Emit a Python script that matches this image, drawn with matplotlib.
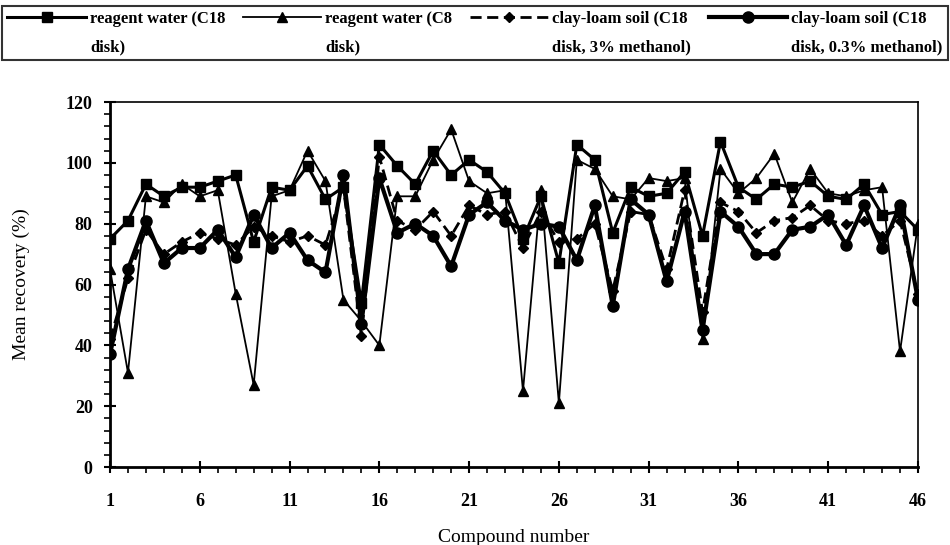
import matplotlib
matplotlib.use("Agg")
import matplotlib.pyplot as plt
import matplotlib.transforms as mtransforms
from matplotlib.legend_handler import HandlerLine2D
from matplotlib.ticker import MultipleLocator, FixedLocator

plt.rcParams['font.family'] = ['Liberation Serif', 'DejaVu Serif']

compounds = list(range(1, 47))

c18_water = [75, 81, 93, 89, 92, 92, 94, 96, 74, 92, 91, 99, 88, 92, 54, 106, 99, 93, 104, 96,
             101, 97, 90, 75, 89, 67, 106, 101, 77, 92, 89, 90, 97, 76, 107, 92, 88, 93, 92, 94,
             89, 88, 93, 83, 84, 78]
c8_water = [65, 31, 89, 87, 93, 89, 91, 57, 27, 89, 91, 104, 94, 55, 48, 40, 89, 89, 101, 111,
            94, 90, 91, 25, 91, 21, 101, 98, 89, 88, 95, 94, 95, 42, 98, 90, 95, 103, 87, 98,
            90, 89, 91, 92, 38, 80]
soil_3pct = [42, 62, 78, 70, 74, 77, 75, 73, 79, 76, 74, 76, 73, 92, 43, 102, 81, 78, 84, 76,
             86, 83, 84, 72, 84, 74, 75, 80, 58, 84, 83, 65, 91, 51, 87, 84, 77, 81, 82, 86,
             81, 80, 81, 76, 81, 57]
soil_03pct = [37, 65, 81, 67, 72, 72, 78, 69, 83, 72, 77, 68, 64, 96, 47, 95, 77, 80, 76, 66,
              83, 87, 81, 78, 80, 79, 68, 86, 53, 88, 83, 61, 84, 45, 84, 79, 70, 70, 78, 79,
              83, 73, 86, 72, 86, 55]

labels = ["reagent water (C18\ndisk)", "reagent water (C8\ndisk)",
          "clay-loam soil (C18\ndisk, 3% methanol)", "clay-loam soil (C18\ndisk, 0.3% methanol)"]
x_ticks = [1, 6, 11, 16, 21, 26, 31, 36, 41, 46]

LEG_LINESPACING = 2.0


class TopLineHandler(HandlerLine2D):
    """Place the legend handle at the level of the first text line."""
    def create_artists(self, legend, orig_handle, xdescent, ydescent, width, height,
                       fontsize, trans):
        arts = super().create_artists(legend, orig_handle, xdescent, ydescent, width,
                                      height, fontsize, trans)
        shift = mtransforms.Affine2D().translate(0, 0.5 * LEG_LINESPACING * fontsize)
        for a in arts:
            a.set_transform(shift + trans)
        return arts


fig = plt.figure(figsize=(9.5, 5.45), dpi=100)
ax = fig.add_axes([0.1158, 0.1431, 0.8505, 0.6697])

h1, = ax.plot(compounds, c18_water, color='black', lw=2.2, marker='s', ms=7, label=labels[0], zorder=3)
h2, = ax.plot(compounds, c8_water, color='black', lw=1.3, marker='^', ms=6.5, label=labels[1], zorder=4)
h3, = ax.plot(compounds, soil_3pct, color='black', lw=2.0, ls=(0, (4, 2)), marker='D', ms=5, label=labels[2], zorder=5)
h4, = ax.plot(compounds, soil_03pct, color='black', lw=3.0, marker='o', ms=8, label=labels[3], zorder=2)

ax.set_xlim(1, 46)
ax.set_ylim(0, 120)
ax.xaxis.set_major_locator(FixedLocator(x_ticks))
ax.xaxis.set_minor_locator(MultipleLocator(1))
ax.yaxis.set_major_locator(MultipleLocator(20))
ax.yaxis.set_minor_locator(MultipleLocator(4))
ax.tick_params(axis='both', which='major', direction='inout', length=9, width=1.5, labelsize=13, colors='black')
ax.tick_params(axis='both', which='minor', direction='out', length=4, width=1.2)
ax.tick_params(axis='x', which='major', pad=14)
ax.tick_params(axis='y', which='major', pad=8)
for lab in ax.get_xticklabels() + ax.get_yticklabels():
    lab.set_fontweight('bold')

for s in ['left', 'bottom']:
    ax.spines[s].set_linewidth(2.0)
for s in ['top', 'right']:
    ax.spines[s].set_linewidth(1.2)

ax.set_xlabel("Compound number", fontsize=14, labelpad=14)
ax.set_ylabel("Mean recovery (%)", fontsize=14, labelpad=26)

leg = fig.legend(handles=[h1, h2, h3, h4], labels=labels, loc='upper center',
                 bbox_to_anchor=(0.5, 0.995), ncol=4, frameon=True, fancybox=False,
                 edgecolor='black', handlelength=4.7, handletextpad=0.25,
                 columnspacing=1.05, borderpad=0.3, borderaxespad=0.2,
                 handler_map={h: TopLineHandler() for h in [h1, h2, h3, h4]},
                 prop={'family': 'Liberation Serif', 'weight': 'bold', 'size': 12})
for t in leg.get_texts():
    t.set_linespacing(LEG_LINESPACING)
leg.get_frame().set_linewidth(1.5)

fig.savefig("out.png", dpi=100)
